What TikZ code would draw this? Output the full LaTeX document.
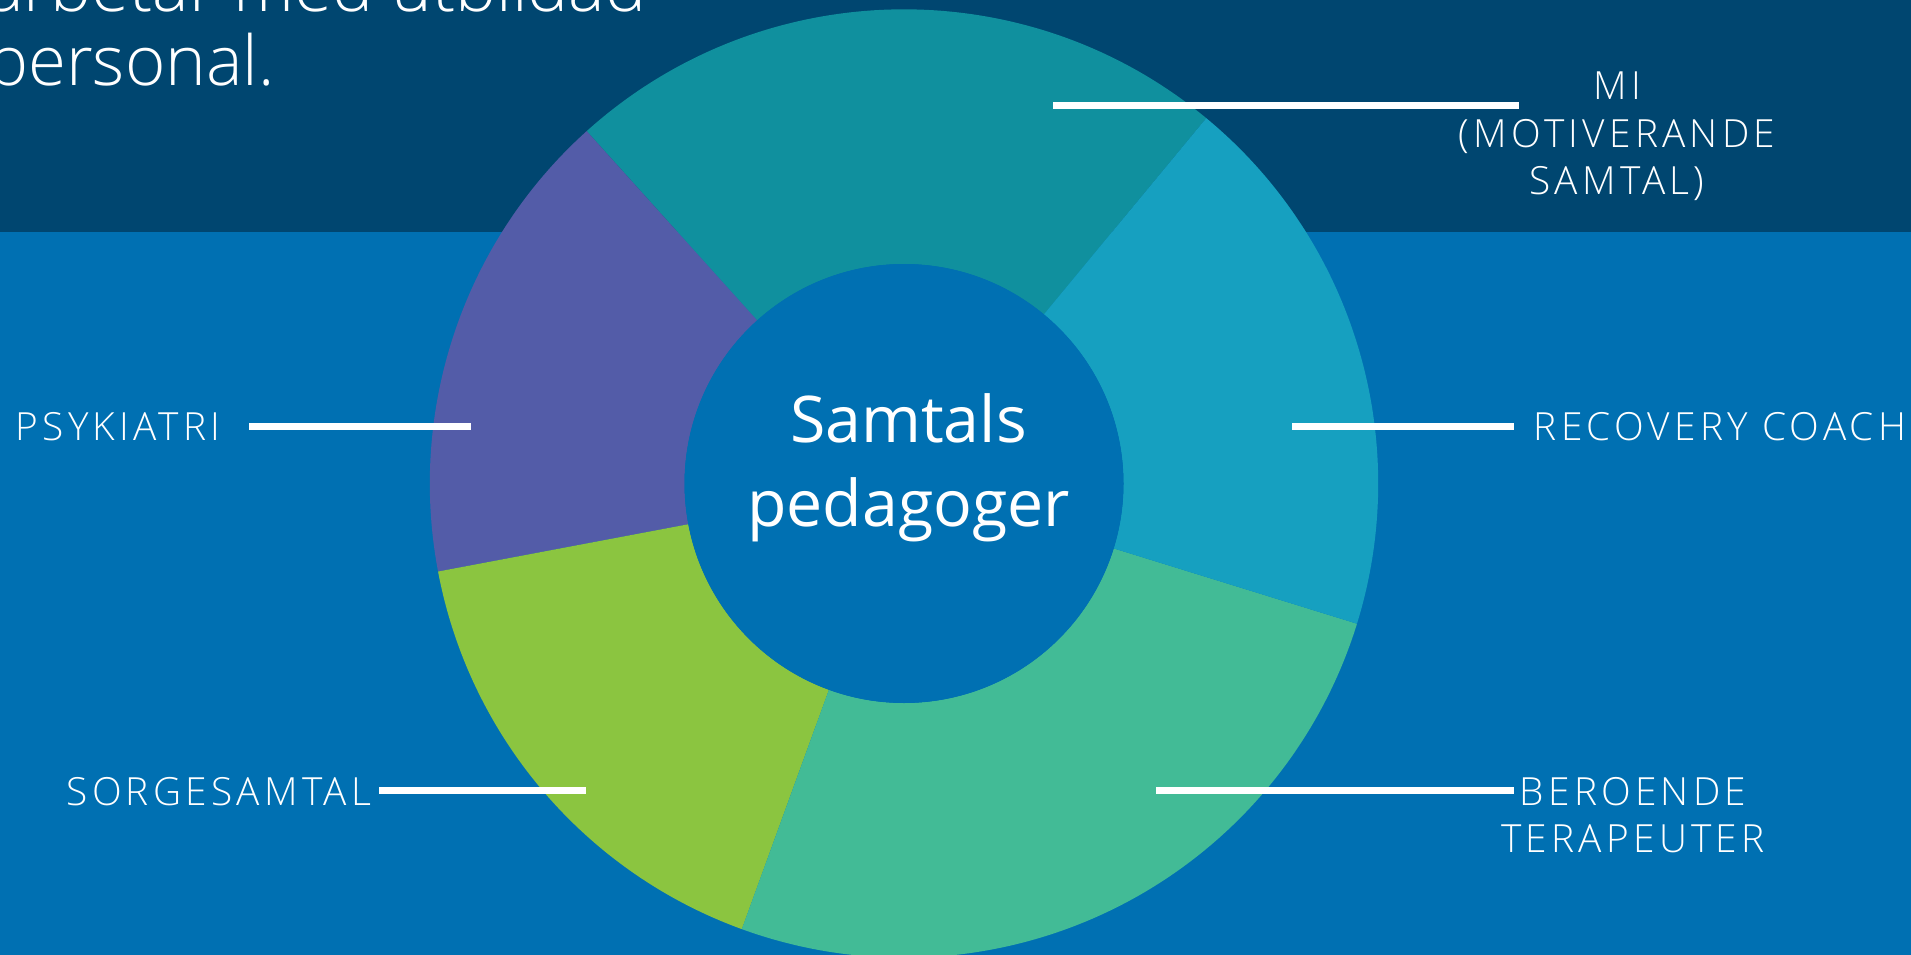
\documentclass[tikz,border=0pt]{standalone}
\usepackage{fontspec}
\setmainfont{Open Sans}
\newfontfamily\osLight{Open Sans Light}
\newfontfamily\osLabel{Open Sans Light}[LetterSpace=11]
\definecolor{bgblue}{HTML}{0070B2}
\definecolor{bandblue}{HTML}{004670}
\definecolor{segteal}{HTML}{10909E}
\definecolor{segpurple}{HTML}{535CA8}
\definecolor{seglime}{HTML}{8BC540}
\definecolor{seggreen}{HTML}{42BB96}
\definecolor{segcyan}{HTML}{16A0C0}
\begin{document}
\begin{tikzpicture}[x=1pt,y=-1pt,
  lbl/.style={font=\osLabel\fontsize{38.8}{47.3}\selectfont, text=white, inner sep=0pt, align=center},
  leadline/.style={draw=white, line width=6.5pt},
  hub/.style={circle, fill=bgblue, minimum size=439pt, inner sep=0pt},
  hubtext/.style={font=\fontsize{64.4}{84}\selectfont, text=white, align=center, inner sep=0pt},
  headtext/.style={font=\osLight\fontsize{69}{74}\selectfont, text=white, align=left, inner sep=0pt}]
\useasboundingbox (0,0) rectangle (1911,955);
\clip (0,0) rectangle (1911,955);
\fill[bgblue] (0,0) rectangle (1911,955);
\fill[bandblue] (0,0) rectangle (1911,232);
% donut
\begin{scope}[shift={(904,483.5)}, yscale=-1]
  \def\Ro{474.2}\def\Ri{219.5}
  \newcommand\donutseg[3]{%
    \fill[#3] (#1:\Ro) arc[start angle=#1, end angle=#2, radius=\Ro]
      -- (#2:\Ri) arc[start angle=#2, end angle=#1, radius=\Ri] -- cycle;}
  \donutseg{50.4}{132}{segteal}
  \donutseg{132}{190.7}{segpurple}
  \donutseg{190.7}{250}{seglime}
  \donutseg{250}{342.8}{seggreen}
  \donutseg{342.8}{410.4}{segcyan}
\end{scope}
\node[hub] (hub) at (904,483.5) {};
\node[hubtext] (hubtext) at ([xshift=4.5pt,yshift=15.5pt]hub.center) {Samtals\\pedagoger};
% heading
\node[headtext, anchor=south west] (head) at (-13,102.4) {arbetar med utbildad\\personal.};
% leader lines
\coordinate (miA) at (1053,105.5); \coordinate (miB) at (1519,105.5);
\coordinate (psyA) at (249,426.7); \coordinate (psyB) at (471,426.7);
\coordinate (recA) at (1292,426.7); \coordinate (recB) at (1514,426.7);
\coordinate (sorgA) at (379,790.5); \coordinate (sorgB) at (586,790.5);
\coordinate (berA) at (1156,790.5); \coordinate (berB) at (1514,790.5);
\draw[leadline] (miA) -- (miB);
\draw[leadline] (psyA) -- (psyB);
\draw[leadline] (recA) -- (recB);
\draw[leadline] (sorgA) -- (sorgB);
\draw[leadline] (berA) -- (berB);
% labels (base = baseline of last line)
\node[lbl, anchor=base] (psy) at (118,440) {PSYKIATRI};
\node[lbl, anchor=base] (rec) at (1720,440) {RECOVERY COACH};
\node[lbl, anchor=base] (sorg) at (219,805) {SORGESAMTAL};
\node[lbl, anchor=base] (ber) at (1633,852.3) {BEROENDE\\TERAPEUTER};
\node[lbl, anchor=base] (mi) at (1617,194.4) {MI\\(MOTIVERANDE\\SAMTAL)};
\end{tikzpicture}
\end{document}
